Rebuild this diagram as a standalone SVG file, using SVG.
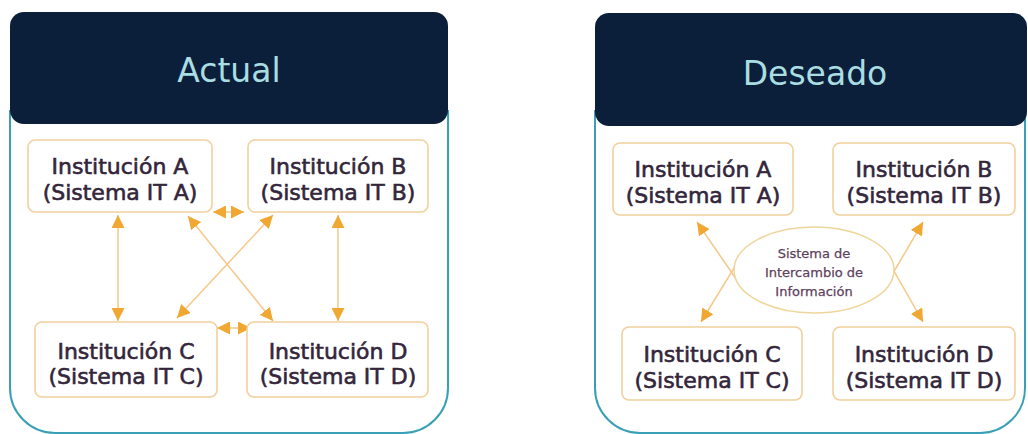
<svg xmlns="http://www.w3.org/2000/svg" width="1028" height="434" viewBox="0 0 1028 434">
  <style>
    .frame { fill: #ffffff; stroke: #3aa0b6; stroke-width: 2; }
    .header { fill: #0b1f3b; }
    .title { font-family: "DejaVu Sans", Verdana, sans-serif; font-size: 33px; fill: #a9dde2; text-anchor: middle; }
    .box { fill: #ffffff; stroke: #f1d09c; stroke-width: 1.6; }
    .label { font-family: "DejaVu Sans", Verdana, sans-serif; font-size: 22px; fill: #33263a; stroke: #33263a; stroke-width: 0.6; text-anchor: middle; }
    .small { font-family: "DejaVu Sans", Verdana, sans-serif; font-size: 13px; fill: #5e3f5c; stroke: #5e3f5c; stroke-width: 0.25; text-anchor: middle; }
    .link { stroke: #f5c888; stroke-width: 1.5; fill: none; }
    .hub { fill: #ffffff; stroke: #efd59a; stroke-width: 1.5; }
  </style>
  <defs>
    <marker id="tip" viewBox="0 0 10 10" refX="10" refY="5" markerWidth="13" markerHeight="13" markerUnits="userSpaceOnUse" orient="auto-start-reverse">
      <path d="M0,0 L10,5 L0,10 z" fill="#f0a832"/>
    </marker>
  </defs>

  <rect width="1028" height="434" fill="#ffffff"/>

  <!-- Left panel: current situation -->
  <g id="panel-actual">
    <path class="frame" d="M10,110 V388 A45,45 0 0 0 55,433 H403 A45,45 0 0 0 448,388 V110"/>
    <rect class="header" x="10" y="12" width="438" height="112" rx="14"/>
    <text class="title" x="229" y="82">Actual</text>
  </g>

  <!-- Right panel: desired situation -->
  <g id="panel-deseado">
    <path class="frame" d="M595,110 V388 A45,45 0 0 0 640,433 H980 A45,45 0 0 0 1025,388 V110"/>
    <rect class="header" x="595" y="13" width="432" height="113" rx="14"/>
    <text class="title" x="815" y="85">Deseado</text>
  </g>

  <!-- Connectors -->
  <g id="connectors">
    <!-- point-to-point links between institutions -->
    <line class="link" x1="118" y1="215" x2="118" y2="321" marker-start="url(#tip)" marker-end="url(#tip)"/>
    <line class="link" x1="338" y1="215" x2="338" y2="321" marker-start="url(#tip)" marker-end="url(#tip)"/>
    <line class="link" x1="213" y1="212" x2="244" y2="212" marker-start="url(#tip)" marker-end="url(#tip)"/>
    <line class="link" x1="217" y1="328" x2="251" y2="328" marker-start="url(#tip)" marker-end="url(#tip)"/>
    <line class="link" x1="188" y1="216" x2="273" y2="321" marker-start="url(#tip)" marker-end="url(#tip)"/>
    <line class="link" x1="273" y1="215" x2="177" y2="318" marker-start="url(#tip)" marker-end="url(#tip)"/>

    <!-- links through the exchange hub -->
    <line class="link" x1="745" y1="292" x2="697" y2="222" marker-end="url(#tip)"/>
    <line class="link" x1="745" y1="250" x2="701" y2="322" marker-end="url(#tip)"/>
    <line class="link" x1="882" y1="292" x2="923" y2="222" marker-end="url(#tip)"/>
    <line class="link" x1="882" y1="250" x2="923" y2="322" marker-end="url(#tip)"/>
  </g>

  <!-- Institutions, left panel -->
  <g id="actual-a">
    <rect class="box" x="28" y="140" width="184" height="72" rx="7"/>
    <text class="label" x="120" y="174">Institución A</text>
    <text class="label" x="120" y="200">(Sistema IT A)</text>
  </g>
  <g id="actual-b">
    <rect class="box" x="248" y="140" width="180" height="72" rx="7"/>
    <text class="label" x="338" y="174">Institución B</text>
    <text class="label" x="338" y="200">(Sistema IT B)</text>
  </g>
  <g id="actual-c">
    <rect class="box" x="35" y="322" width="182" height="75" rx="7"/>
    <text class="label" x="126" y="359">Institución C</text>
    <text class="label" x="126" y="384">(Sistema IT C)</text>
  </g>
  <g id="actual-d">
    <rect class="box" x="247" y="322" width="181" height="75" rx="7"/>
    <text class="label" x="338" y="359">Institución D</text>
    <text class="label" x="338" y="384">(Sistema IT D)</text>
  </g>

  <!-- Institutions and hub, right panel -->
  <g id="deseado-hub">
    <ellipse class="hub" cx="814" cy="270" rx="80" ry="43"/>
    <text class="small" x="814" y="258">Sistema de</text>
    <text class="small" x="814" y="277">Intercambio de</text>
    <text class="small" x="814" y="296">Información</text>
  </g>
  <g id="deseado-a">
    <rect class="box" x="613" y="143" width="180" height="72" rx="7"/>
    <text class="label" x="703" y="177">Institución A</text>
    <text class="label" x="703" y="203">(Sistema IT A)</text>
  </g>
  <g id="deseado-b">
    <rect class="box" x="833" y="143" width="182" height="72" rx="7"/>
    <text class="label" x="924" y="177">Institución B</text>
    <text class="label" x="924" y="203">(Sistema IT B)</text>
  </g>
  <g id="deseado-c">
    <rect class="box" x="622" y="327" width="180" height="73" rx="7"/>
    <text class="label" x="712" y="362">Institución C</text>
    <text class="label" x="712" y="388">(Sistema IT C)</text>
  </g>
  <g id="deseado-d">
    <rect class="box" x="833" y="327" width="182" height="73" rx="7"/>
    <text class="label" x="924" y="362">Institución D</text>
    <text class="label" x="924" y="388">(Sistema IT D)</text>
  </g>
</svg>
